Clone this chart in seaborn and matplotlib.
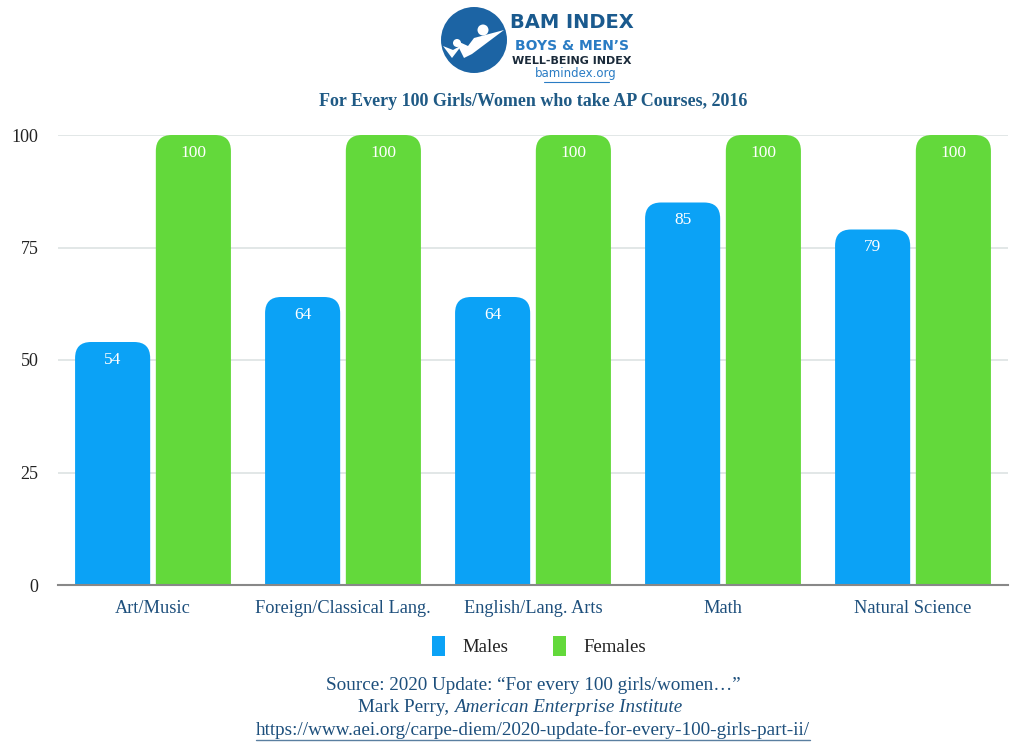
import matplotlib
matplotlib.use("Agg")
import matplotlib.pyplot as plt
import seaborn as sns
import pandas as pd
from matplotlib.patches import FancyBboxPatch, Ellipse, Patch, Polygon

categories = ["Art/Music", "Foreign/Classical Lang.", "English/Lang. Arts", "Math", "Natural Science"]
males = [54, 64, 64, 85, 79]
females = [100, 100, 100, 100, 100]
series = ["Males", "Females"]
yticks = [0, 25, 50, 75, 100]

blue = "#0ba2f6"
green = "#63d93b"
navy = "#1d4f7c"

df = pd.DataFrame({
    "cat": categories * 2,
    "value": males + females,
    "sex": [series[0]] * len(categories) + [series[1]] * len(categories),
})

sns.set_theme(style="white")
plt.rcParams["font.family"] = ["Liberation Serif", "DejaVu Serif"]

fig = plt.figure(figsize=(10.24, 7.45), dpi=100)
ax = fig.add_axes([58 / 1024, 1 - 585 / 745, 950 / 1024, 450 / 745])

sns.barplot(data=df, x="cat", y="value", hue="sex", palette=[blue, green],
            width=0.85, gap=0.07, ax=ax, legend=False, saturation=1)

ax.set_ylim(0, 100)
ax.set_xlim(-0.5, len(categories) - 0.5)

# rounded tops
px_per_x = 950 / len(categories)
px_per_y = 450 / 100
r_px = 16
r_x = r_px / px_per_x
aspect = (r_px / px_per_y) / r_x
for p in list(ax.patches):
    h = p.get_height()
    if h <= 0:
        continue
    x0 = p.get_x()
    w = p.get_width()
    col = p.get_facecolor()
    p.set_visible(False)
    ry = r_x * aspect
    fb = FancyBboxPatch((x0, -ry), w, h + ry,
                        boxstyle=f"round,pad=0,rounding_size={r_x}",
                        mutation_aspect=aspect, facecolor=col, edgecolor="none",
                        zorder=2, clip_on=True)
    ax.add_patch(fb)
    ax.text(x0 + w / 2, h - 2.2, f"{int(h)}", ha="center", va="top",
            color="white", fontsize=12.5, zorder=3)

ax.set_yticks(yticks)
ax.set_yticklabels([str(t) for t in yticks], fontsize=13, color="#222222")
ax.yaxis.grid(True, color="#dde3e3", linewidth=1.2, zorder=0)
ax.set_axisbelow(True)
ax.tick_params(axis="y", length=0, pad=14)
ax.tick_params(axis="x", length=0, pad=11)
ax.set_xticks(range(len(categories)))
ax.set_xticklabels(categories, fontsize=13.2, color=navy)
ax.set_xlabel("")
ax.set_ylabel("")
for s in ["top", "right", "left"]:
    ax.spines[s].set_visible(False)
ax.spines["bottom"].set_color("#888888")
ax.spines["bottom"].set_linewidth(1.5)
ax.spines["bottom"].set_zorder(5)

# legend
handles = [Patch(facecolor=blue, edgecolor="none"), Patch(facecolor=green, edgecolor="none")]
fig.legend(handles, series, loc="center", bbox_to_anchor=(539 / 1024, 1 - 646 / 745),
           ncol=2, frameon=False, fontsize=13.5, handlelength=0.7, handleheight=1.3,
           columnspacing=2.4, handletextpad=0.9, labelcolor="#222222")

# title
fig.text(533 / 1024, 1 - 102 / 745, "For Every 100 Girls/Women who take AP Courses, 2016",
         ha="center", va="center", fontsize=13, fontweight="bold", color="#1f5a85")

# logo
def fp(x, y):
    return (x / 1024, 1 - y / 745)
fig.patches.append(Ellipse(fp(474, 40), 66 / 1024, 66 / 745, transform=fig.transFigure,
                           facecolor="#1c64a4", edgecolor="none"))
fig.patches.append(Polygon([fp(455, 40), fp(468, 46), fp(474, 38), fp(504, 30), fp(472, 54), fp(464, 58)],
                           closed=True, transform=fig.transFigure, facecolor="white", edgecolor="none"))
fig.patches.append(Polygon([fp(443, 46), fp(453, 50), fp(462, 45), fp(452, 58)],
                           closed=True, transform=fig.transFigure, facecolor="white", edgecolor="none"))
fig.patches.append(Ellipse(fp(483, 30), 11 / 1024, 11 / 745, transform=fig.transFigure, facecolor="white", edgecolor="none"))
fig.patches.append(Ellipse(fp(457, 43), 8 / 1024, 8 / 745, transform=fig.transFigure, facecolor="white", edgecolor="none"))

fig.text(572 / 1024, 1 - 23 / 745, "BAM INDEX", ha="center", va="center", fontsize=14,
         fontweight="bold", color="#1a5a8e", family=["DejaVu Sans"])
fig.text(572 / 1024, 1 - 46 / 745, "BOYS & MEN\u2019S", ha="center", va="center", fontsize=10,
         fontweight="bold", color="#2a7cc4", family=["DejaVu Sans"])
fig.text(572 / 1024, 1 - 61 / 745, "WELL-BEING INDEX", ha="center", va="center", fontsize=8,
         fontweight="bold", color="#1a2a3a", family=["DejaVu Sans"])
fig.text(576 / 1024, 1 - 74 / 745, "bamindex.org", ha="center", va="center", fontsize=8.5,
         color="#2a7cc4", family=["DejaVu Sans"])
fig.lines.append(plt.Line2D([544 / 1024, 609 / 1024], [1 - 82 / 745] * 2, transform=fig.transFigure,
                            color="#2a7cc4", linewidth=0.8))

# source
fs = 13.8
fig.text(533 / 1024, 1 - 686 / 745, "Source: 2020 Update: \u201cFor every 100 girls/women\u2026\u201d",
         ha="center", va="center", fontsize=fs, color=navy)
ta = fig.text(0, 1 - 708 / 745, "Mark Perry, ", ha="left", va="center", fontsize=fs, color=navy)
tb = fig.text(0, 1 - 708 / 745, "American Enterprise Institute", ha="left", va="center",
              fontsize=fs, color=navy, style="italic")
tu = fig.text(533 / 1024, 1 - 730 / 745,
              "https://www.aei.org/carpe-diem/2020-update-for-every-100-girls-part-ii/",
              ha="center", va="center", fontsize=fs, color=navy)
fig.canvas.draw()
r = fig.canvas.get_renderer()
wa = ta.get_window_extent(r).width
wb = tb.get_window_extent(r).width
start = 520 - (wa + wb) / 2
ta.set_position((start / 1024, 1 - 708 / 745))
tb.set_position(((start + wa) / 1024, 1 - 708 / 745))
eu = tu.get_window_extent(r)
fig.lines.append(plt.Line2D([eu.x0 / 1024, eu.x1 / 1024], [1 - 740 / 745] * 2, transform=fig.transFigure,
                            color="#5a7fa0", linewidth=1.0))

fig.savefig("out.png", dpi=100)
